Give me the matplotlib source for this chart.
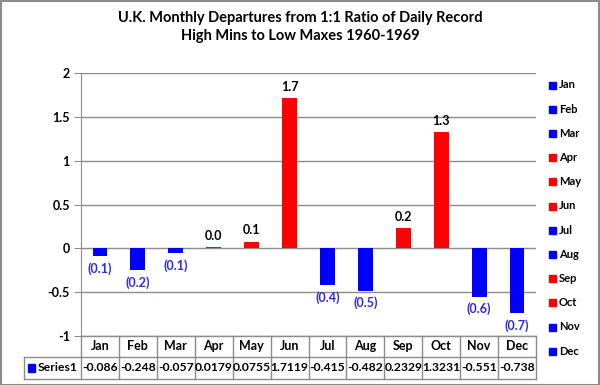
import matplotlib.pyplot as plt
import numpy as np
from matplotlib.lines import Line2D
from matplotlib.patches import Rectangle

plt.rcParams['font.family'] = ['Lato', 'DejaVu Sans']

months = ['Jan', 'Feb', 'Mar', 'Apr', 'May', 'Jun',
          'Jul', 'Aug', 'Sep', 'Oct', 'Nov', 'Dec']
values = [-0.086, -0.248, -0.057, 0.0179, 0.0755, 1.7119,
          -0.415, -0.482, 0.2329, 1.3231, -0.551, -0.738]
table_text = ['-0.086', '-0.248', '-0.057', '0.0179', '0.0755', '1.7119',
              '-0.415', '-0.482', '0.2329', '1.3231', '-0.551', '-0.738']
series_name = 'Series1'
title = 'U.K. Monthly Departures from 1:1 Ratio of Daily Record\nHigh Mins to Low Maxes 1960-1969'

BLUE = '#0000FF'
RED = '#FF0000'
GRID = '#8c8c8c'
colors = [RED if v > 0 else BLUE for v in values]

fig = plt.figure(figsize=(6, 3.85), dpi=100)
W, H = 600, 385
# plot area in pixels
px_l, px_r, px_t, px_b = 81, 536, 73, 336
ax = fig.add_axes([px_l / W, 1 - px_b / H, (px_r - px_l) / W, (px_b - px_t) / H])

x = np.arange(len(months))
ax.bar(x, values, width=0.39, color=colors, zorder=3)
ax.set_xlim(-0.5, len(months) - 0.5)
ax.set_ylim(-1, 2)
ax.set_yticks([-1, -0.5, 0, 0.5, 1, 1.5, 2])
ax.set_yticklabels(['-1', '-0.5', '0', '0.5', '1', '1.5', '2'],
                   fontsize=9, fontweight='bold')
ax.tick_params(axis='y', length=5, color=GRID, pad=3)
ax.set_xticks([])
ax.grid(axis='y', color=GRID, linewidth=1, zorder=0)
for s in ['top', 'right', 'bottom']:
    ax.spines[s].set_visible(False)
ax.spines['left'].set_color(GRID)

# data labels
for xi, v in zip(x, values):
    if v >= 0:
        ax.text(xi, v + 0.06, f'{v:.1f}', ha='center', va='bottom',
                fontsize=9, fontweight='bold', color='black')
    else:
        ax.text(xi, v - 0.07, f'({abs(v):.1f})', ha='center', va='top',
                fontsize=9, fontweight='bold', color='#2a2ae6')

# data table below the plot
ah = px_b - px_t
aw = px_r - px_l
row1 = -21 / ah
row2 = -42.5 / ah
left_cell = (24 - px_l) / aw
tr = ax.transAxes
lkw = dict(color=GRID, linewidth=1, transform=tr, clip_on=False)
ax.add_line(Line2D([0, 1], [0, 0], **lkw))
ax.add_line(Line2D([left_cell, 1], [row1, row1], **lkw))
ax.add_line(Line2D([left_cell, 1], [row2, row2], **lkw))
ax.add_line(Line2D([left_cell, left_cell], [row1, row2], **lkw))
for i in range(len(months) + 1):
    xc = i / len(months)
    ax.add_line(Line2D([xc, xc], [0, row2], **lkw))
for i, (m, t) in enumerate(zip(months, table_text)):
    xc = (i + 0.5) / len(months)
    ax.text(xc, row1 / 2, m, transform=tr, ha='center', va='center',
            fontsize=9, fontweight='bold')
    ax.text(xc, (row1 + row2) / 2, t, transform=tr, ha='center', va='center',
            fontsize=8.7, fontweight='bold')
ax.add_patch(Rectangle((left_cell + 0.009, (row1 + row2) / 2 - 0.016), 0.015, 0.032,
                       transform=tr, color=BLUE, clip_on=False))
ax.text(left_cell + 0.03, (row1 + row2) / 2, series_name, transform=tr,
        ha='left', va='center', fontsize=8.7, fontweight='bold')

# legend on the right
for i, (m, c) in enumerate(zip(months, colors)):
    yp = 85 + i * 24.2
    fig.patches.append(Rectangle((549 / W, 1 - (yp + 3.5) / H), 7 / W, 7 / H,
                                 transform=fig.transFigure, color=c))
    fig.text(559 / W, 1 - yp / H, m, ha='left', va='center',
             fontsize=8, fontweight='bold')

fig.suptitle(title, x=0.5, y=1 - 11 / H, va='top', fontsize=10.5,
             fontweight='bold', linespacing=1.35)

# outer chart border
fig.patches.append(Rectangle((0.5 / W, 0.5 / H), 1 - 1.5 / W, 1 - 1.5 / H,
                             transform=fig.transFigure, fill=False,
                             edgecolor=GRID, linewidth=1.5))

fig.savefig('out.png', dpi=100)
